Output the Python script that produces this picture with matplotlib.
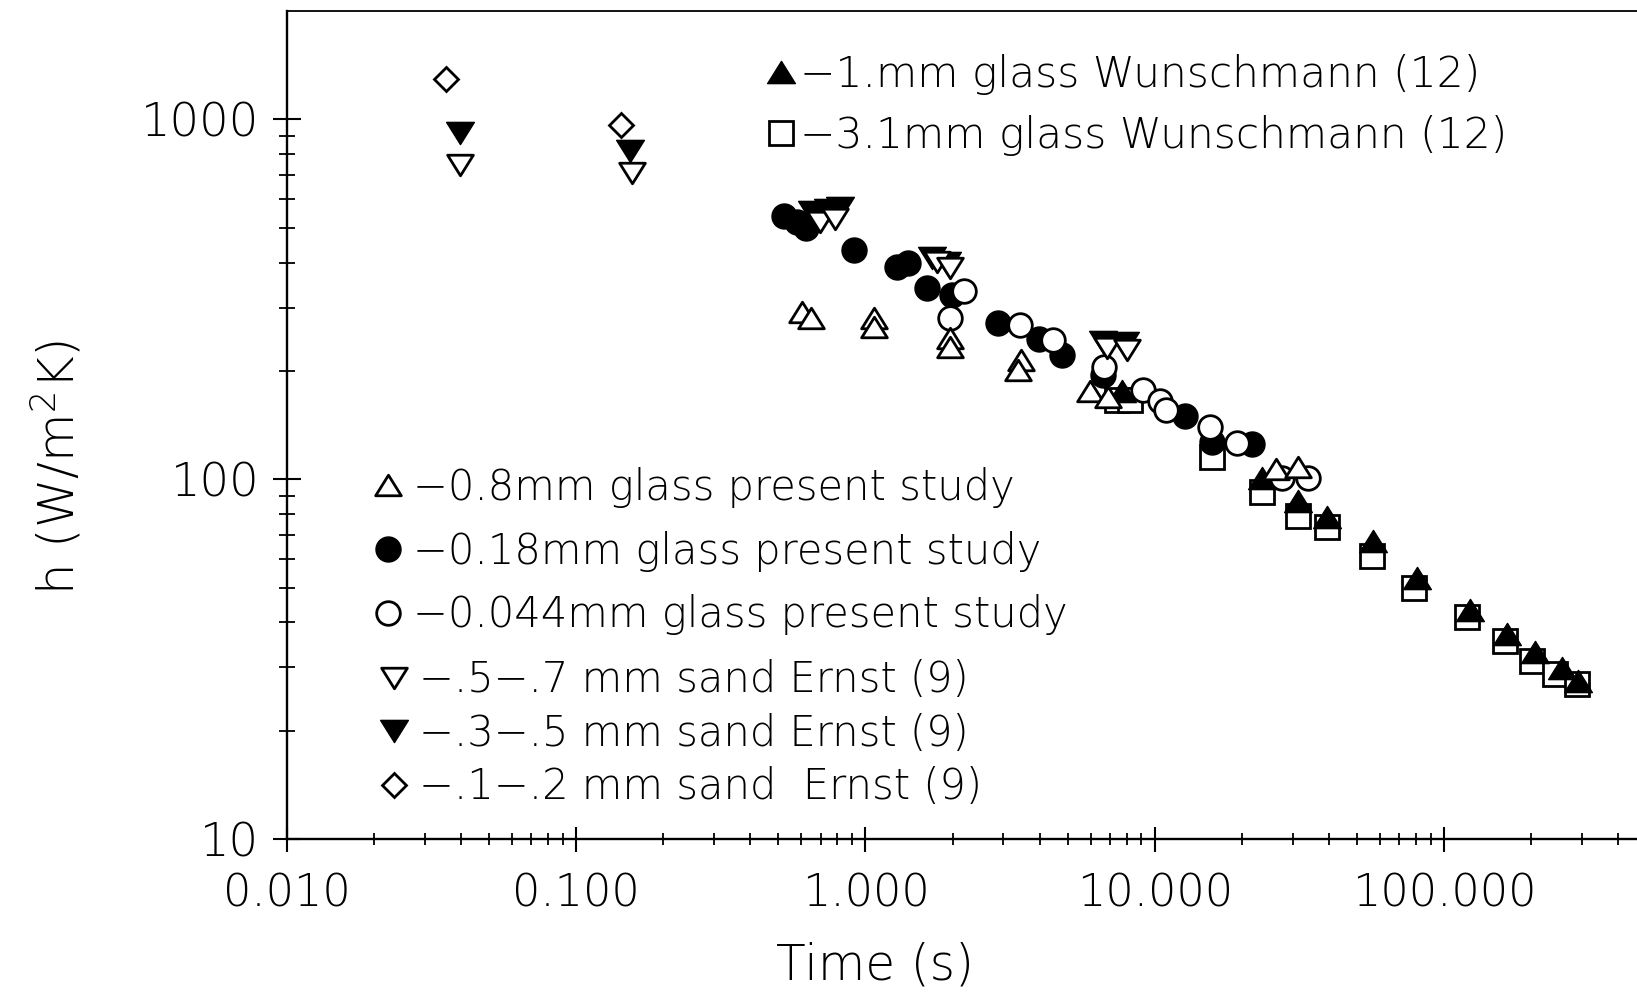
import matplotlib
matplotlib.use("Agg")
import matplotlib.pyplot as plt
from matplotlib.path import Path
from matplotlib.ticker import LogLocator, NullFormatter, FixedLocator

# ---------------- data ----------------
# 1.0 mm glass, Wunschmann (12)  -- filled up triangles
t_glass1_wun = [7.72, 23.5, 31.3, 39.5, 56.9, 80.8, 123.2, 165.4, 206.8, 256.3, 291.1]
h_glass1_wun = [176, 100.6, 86.8, 78.4, 67.2, 53.3, 43.2, 37.2, 33.0, 29.8, 27.5]

# 3.1 mm glass, Wunschmann (12)  -- open squares
t_glass31_wun = [7.41, 8.22, 15.79, 23.5, 31.3, 39.5, 56.4, 78.9, 120.3, 162.8, 201.8, 242.4, 288.8]
h_glass31_wun = [166, 166, 115.2, 92.0, 78.9, 73.5, 61.0, 50.0, 41.3, 35.6, 31.3, 28.8, 27.0]

# 0.8 mm glass, present study  -- open up triangles
t_glass08 = [0.604, 0.648, 1.071, 1.071, 1.96, 1.96, 3.45, 3.37, 5.98, 6.90, 26.3, 31.3]
h_glass08 = [292, 281, 281, 265, 247, 233, 215, 201, 176, 169, 106.6, 108]

# 0.18 mm glass, present study  -- filled circles
t_glass018 = [0.523, 0.580, 0.623, 0.913, 1.286, 1.404, 1.633, 1.993, 2.874, 3.984,
              4.784, 6.63, 12.74, 15.79, 21.72]
h_glass018 = [540, 520, 500, 434, 389, 400, 340, 325, 272, 245, 221, 195, 150, 127, 125]

# 0.044 mm glass, present study  -- open circles
t_glass0044 = [1.96, 2.19, 3.42, 4.45, 6.68, 9.12, 10.44, 10.95, 15.55, 19.27, 27.57, 33.9]
h_glass0044 = [281, 334, 269, 244, 205, 177, 165, 156, 140, 126, 100.6, 101]

# .5-.7 mm sand, Ernst (9)  -- open down triangles
t_sand57 = [0.0395, 0.156, 0.697, 0.785, 1.77, 1.96, 6.83, 8.01]
h_sand57 = [745, 710, 520, 530, 402, 387, 231, 229]

# .3-.5 mm sand, Ernst (9)  -- filled down triangles
t_sand35 = [0.0395, 0.1535, 0.653, 0.743, 0.817, 1.70, 1.92, 6.65, 7.90]
h_sand35 = [918, 815, 554, 561, 569, 413, 400, 241, 239]

# .1-.2 mm sand, Ernst (9)  -- open diamonds
t_sand12 = [0.0354, 0.1426]
h_sand12 = [1298, 964]

labels = ["\u22121.mm glass Wunschmann (12)",
          "\u22123.1mm glass Wunschmann (12)",
          "\u22120.8mm glass present study",
          "\u22120.18mm glass present study",
          "\u22120.044mm glass present study",
          "\u2212.5\u2212.7 mm sand Ernst (9)",
          "\u2212.3\u2212.5 mm sand Ernst (9)",
          "\u2212.1\u2212.2 mm sand  Ernst (9)"]

x_ticks = [0.01, 0.1, 1, 10, 100]
x_ticklabels = ["0.010", "0.100", "1.000", "10.000", "100.000"]
y_ticks = [10, 100, 1000]
y_ticklabels = ["10", "100", "1000"]

# ---------------- figure ----------------
plt.rcParams['font.family'] = ['DejaVu Sans']
plt.rcParams['font.weight'] = 'light'
plt.rcParams['axes.labelweight'] = 'light'
plt.rcParams['mathtext.fontset'] = 'dejavusans'

fig = plt.figure(figsize=(16.37, 9.92), dpi=100)
ax = fig.add_axes([0.1753, 0.1542, 0.8247, 0.8346])
ax.set_xscale('log')
ax.set_yscale('log')

tri_up = Path([(0, 0.8), (-1, -0.8), (1, -0.8), (0, 0.8)], closed=True)
tri_dn = Path([(0, -0.8), (-1, 0.8), (1, 0.8), (0, -0.8)], closed=True)

common = dict(ls='none', mec='black')
h_sq, = ax.plot(t_glass31_wun, h_glass31_wun, marker='s', ms=17.5, mfc='white', mew=2,
                zorder=3, **common)
h_tf, = ax.plot(t_glass1_wun, h_glass1_wun, marker=tri_up, ms=20, mfc='black', mew=1,
                zorder=4, **common)
h_cf, = ax.plot(t_glass018, h_glass018, marker='o', ms=18, mfc='black', mew=1,
                zorder=5, **common)
h_co, = ax.plot(t_glass0044, h_glass0044, marker='o', ms=17, mfc='white', mew=2,
                zorder=6, **common)
h_to, = ax.plot(t_glass08, h_glass08, marker=tri_up, ms=18.5, mfc='white', mew=2,
                zorder=7, **common)
h_df, = ax.plot(t_sand35, h_sand35, marker=tri_dn, ms=20, mfc='black', mew=1,
                zorder=8, **common)
h_do, = ax.plot(t_sand57, h_sand57, marker=tri_dn, ms=18.5, mfc='white', mew=2,
                zorder=9, **common)
h_di, = ax.plot(t_sand12, h_sand12, marker='D', ms=12, mfc='white', mew=2,
                zorder=10, **common)

ax.set_xlim(0.01, 465)
ax.set_ylim(10, 2000)

ax.set_xticks(x_ticks, x_ticklabels)
ax.set_yticks(y_ticks, y_ticklabels)
ax.xaxis.set_minor_locator(LogLocator(base=10, subs=range(2, 10), numticks=30))
ax.yaxis.set_minor_locator(FixedLocator([k * 10 ** e for e in (1, 2) for k in range(2, 10)]))
ax.xaxis.set_minor_formatter(NullFormatter())
ax.yaxis.set_minor_formatter(NullFormatter())

ax.tick_params(axis='x', which='major', direction='inout', length=18, width=1.5,
               pad=15, labelsize=32)
ax.tick_params(axis='x', which='minor', direction='inout', length=8.6, width=1.3)
ax.tick_params(axis='y', which='major', direction='inout', length=20, width=1.5,
               pad=10, labelsize=33.5)
ax.tick_params(axis='y', which='minor', direction='inout', length=11.5, width=1.3)
ax.tick_params(top=False, right=False, which='both')

ax.spines['right'].set_visible(False)
for s in ('left', 'bottom'):
    ax.spines[s].set_linewidth(1.7)
ax.spines['top'].set_linewidth(1.3)

ax.set_xlabel("Time (s)", fontsize=35, fontweight='light')
ax.xaxis.set_label_coords(0.4356, -0.153)
ax.xaxis.label.set_verticalalignment('center')
ax.set_ylabel("h (W/m$^{\\mathdefault{2}}$K)", fontsize=36, fontweight='light')
ax.yaxis.set_label_coords(-0.1705, 0.4493)
ax.yaxis.label.set_verticalalignment('center')

leg_kw = dict(loc='center left', bbox_transform=fig.transFigure, frameon=False,
              fontsize=30, handlelength=0.8, handletextpad=0.2, borderpad=0,
              borderaxespad=0, numpoints=1)

leg_top = ax.legend([h_tf, h_sq], labels[0:2], bbox_to_anchor=(0.4669, 0.8945),
                    labelspacing=0.47, **{**leg_kw, 'handletextpad': 0.05,
                                          'fontsize': 30.5})
ax.add_artist(leg_top)
leg_a = ax.legend([h_to, h_cf, h_co], labels[2:5], bbox_to_anchor=(0.2268, 0.4445),
                  labelspacing=0.55, **leg_kw)
ax.add_artist(leg_a)
leg_b = ax.legend([h_do, h_df, h_di], labels[5:8], bbox_to_anchor=(0.2303, 0.2609),
                  labelspacing=0.30, **leg_kw)

fig.savefig("out.png", dpi=100, facecolor='white')
